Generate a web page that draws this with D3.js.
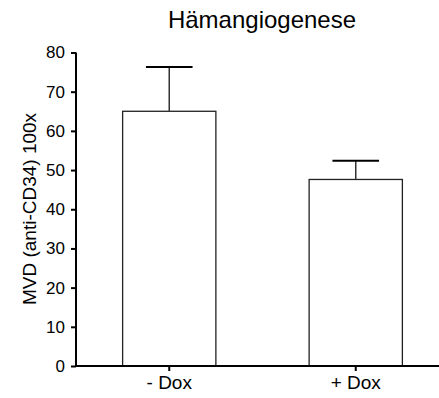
<!DOCTYPE html>
<html>
<head>
<meta charset="utf-8">
<script src="https://cdn.jsdelivr.net/npm/d3@7"></script>
<style>
html,body{margin:0;padding:0;background:#fff;}
svg{display:block;font-family:Arial,"Liberation Sans",Helvetica,sans-serif;}
</style>
</head>
<body>
<svg id="chart" width="439" height="398"></svg>
<script>
const categories = ["- Dox", "+ Dox"];
const means = [65.0, 47.6];
const errorsUp = [11.3, 4.8];
const yTicks = [0, 10, 20, 30, 40, 50, 60, 70, 80];
const title = "Hämangiogenese";
const yLabel = "MVD (anti-CD34) 100x";

const svg = d3.select("#chart");
const y = d3.scaleLinear().domain([0, 80]).range([366, 52.5]);
const x = d3.scaleBand().domain(categories).range([76, 449]).paddingInner(0.5).paddingOuter(0.25);

// bars
svg.selectAll("rect.bar").data(categories).enter().append("rect")
  .attr("x", d => x(d))
  .attr("y", (d, i) => y(means[i]))
  .attr("width", x.bandwidth())
  .attr("height", (d, i) => y(0) - y(means[i]))
  .attr("fill", "#fff").attr("stroke", "#222").attr("stroke-width", 1.3);

// error bars
categories.forEach((c, i) => {
  const cx = x(c) + x.bandwidth() / 2;
  svg.append("line").attr("x1", cx).attr("x2", cx)
    .attr("y1", y(means[i])).attr("y2", y(means[i] + errorsUp[i]))
    .attr("stroke", "#333").attr("stroke-width", 1.5);
  svg.append("line").attr("x1", cx - x.bandwidth() / 4).attr("x2", cx + x.bandwidth() / 4)
    .attr("y1", y(means[i] + errorsUp[i])).attr("y2", y(means[i] + errorsUp[i]))
    .attr("stroke", "#000").attr("stroke-width", 2);
});

// y axis
const yAxis = svg.append("g").attr("transform", "translate(76,0)")
  .call(d3.axisLeft(y).tickValues(yTicks).tickSize(5).tickPadding(6));
yAxis.select(".domain").attr("stroke", "#000").attr("stroke-width", 2).attr("d", `M0,${y(80)}V${y(0)+1}`);
yAxis.selectAll(".tick line").attr("stroke", "#000").attr("stroke-width", 2);
yAxis.selectAll(".tick text").attr("font-size", 17).attr("fill", "#000").attr("font-family", "Arial, 'Liberation Sans', sans-serif");

// x axis
const xAxis = svg.append("g").attr("transform", `translate(0,${y(0)})`)
  .call(d3.axisBottom(x).tickSize(5).tickPadding(5));
xAxis.select(".domain").attr("stroke", "#000").attr("stroke-width", 2).attr("d", "M75,0H439");
xAxis.selectAll(".tick line").attr("stroke", "#000").attr("stroke-width", 2);
xAxis.selectAll(".tick text").attr("font-size", 19).attr("fill", "#000").attr("font-family", "Arial, 'Liberation Sans', sans-serif");

// title
svg.append("text").attr("x", 262).attr("y", 28).attr("text-anchor", "middle")
  .attr("font-size", 24).attr("fill", "#000").text(title);

// y label
svg.append("text").attr("transform", `translate(36,209) rotate(-90)`).attr("text-anchor", "middle")
  .attr("font-size", 19).attr("fill", "#000").text(yLabel);
</script>
</body>
</html>
